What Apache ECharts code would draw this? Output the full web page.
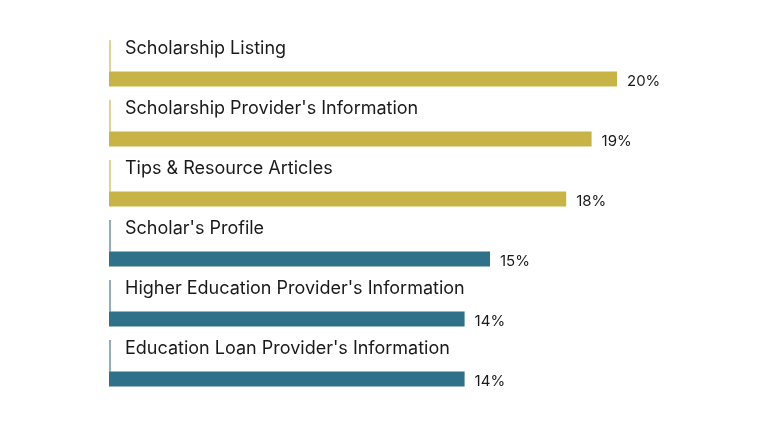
<!DOCTYPE html>
<html><head><meta charset="utf-8">
<script src="https://cdn.jsdelivr.net/npm/echarts@6/dist/echarts.min.js"></script>
<style>html,body{margin:0;padding:0;background:#fff}#c{width:768px;height:427px}</style>
</head><body><div id="c"></div>
<script>
const categories = ["Scholarship Listing","Scholarship Provider's Information","Tips & Resource Articles","Scholar's Profile","Higher Education Provider's Information","Education Loan Provider's Information"];
const values = [20,19,18,15,14,14];
const barColors = ["#c8b347","#c8b347","#c8b347","#30718a","#30718a","#30718a"];
const lineColors = ["#d6c66f","#d6c66f","#d6c66f","#6f93a4","#6f93a4","#6f93a4"];
const FONT = "Inter";
const chart = echarts.init(document.getElementById('c'));
chart.setOption({
  animation:false,
  grid:{left:109,top:49,width:635,height:360},
  xAxis:{type:'value',min:0,max:25,show:false},
  yAxis:{type:'category',data:categories,inverse:true,show:false},
  series:[
    {type:'bar',data:values.map((v,i)=>({value:v,itemStyle:{color:barColors[i]}})),barWidth:15,
     label:{show:true,position:'right',distance:10,offset:[0,2],formatter:'{c}%',color:'#1a1a1a',fontFamily:FONT,fontSize:15}},
    {type:'custom',data:categories.map((c,i)=>[0,i]),encode:{x:0,y:1},z:5,
     renderItem:function(params,api){
       const i=api.value(1);
       const p=api.coord([0,i]);
       return {type:'group',children:[
         {type:'line',shape:{x1:p[0]+1,y1:p[1]-39,x2:p[0]+1,y2:p[1]-7},style:{stroke:lineColors[i],lineWidth:1.5}},
         {type:'text',x:p[0]+16,y:p[1]-30,style:{text:categories[i],fill:'#1a1a1a',font:'18px '+FONT,verticalAlign:'middle',align:'left'}}
       ]};
     }}
  ]
});
</script></body></html>
